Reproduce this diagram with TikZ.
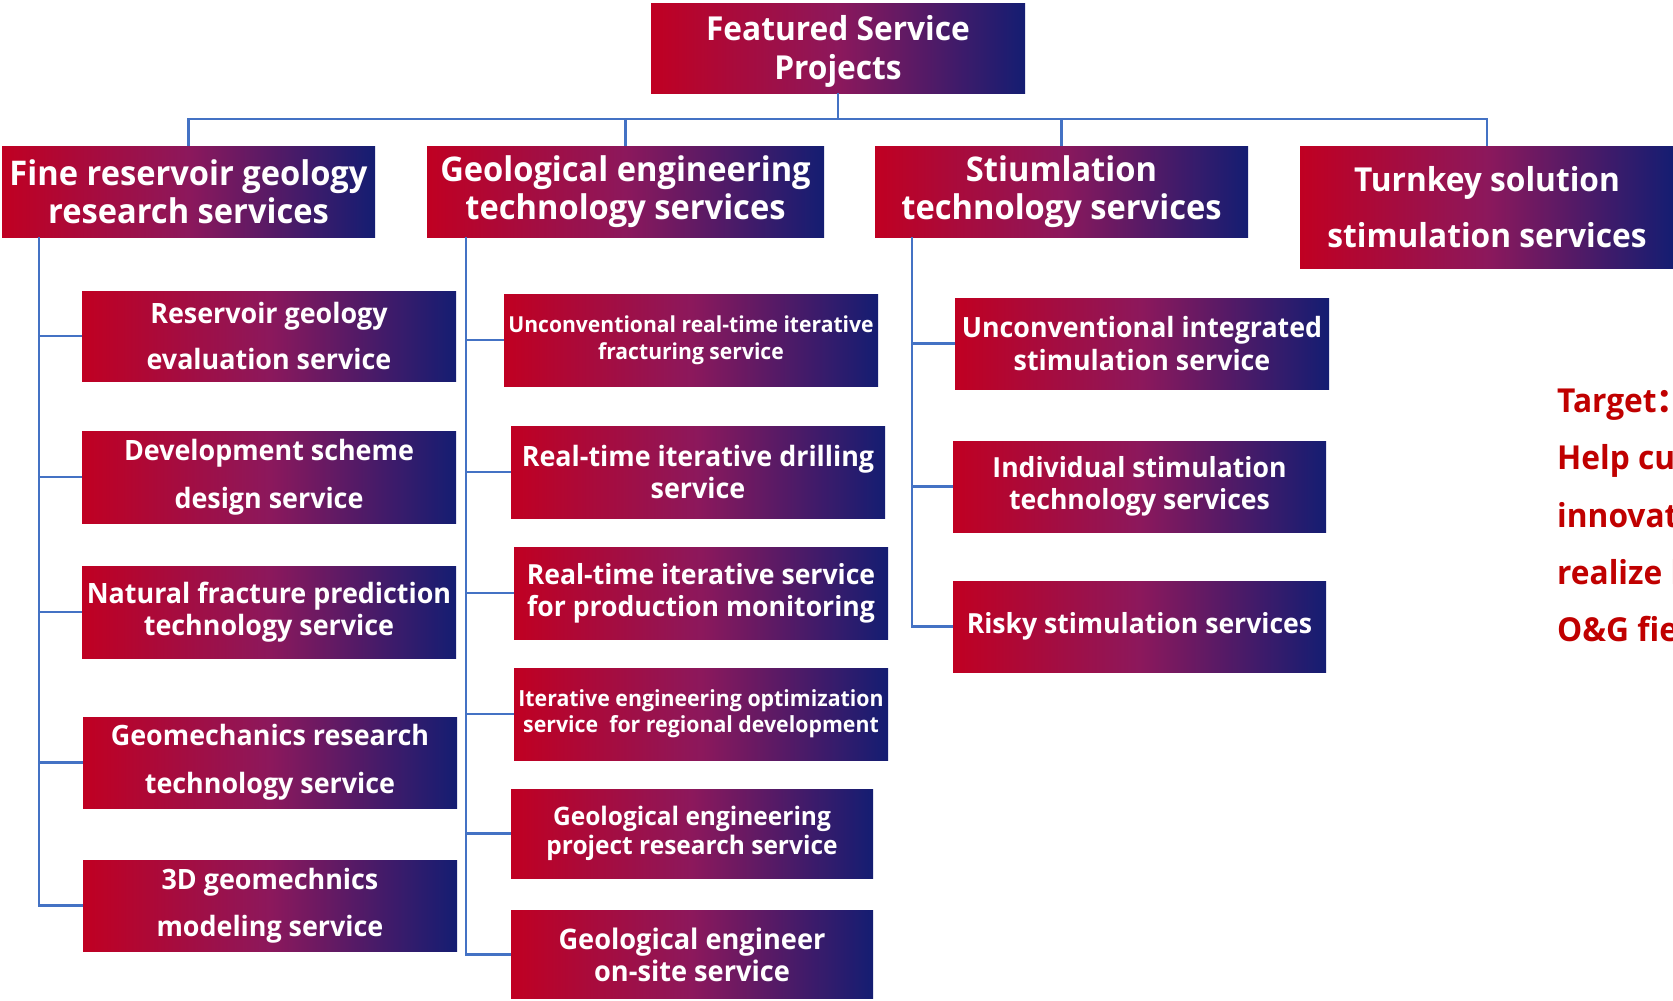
\documentclass[tikz,border=0pt]{standalone}
\usepackage{fontspec}
\setmainfont{Open Sans}[FakeStretch=0.96]
\newfontfamily\cjk{Noto Sans CJK SC}
\definecolor{gl}{RGB}{192,0,34}
\definecolor{gm}{RGB}{140,24,92}
\definecolor{gr}{RGB}{20,29,114}
\definecolor{conncol}{RGB}{68,114,196}
\definecolor{tgt}{RGB}{192,0,0}
\newcommand{\fs}[2]{\fontsize{#1}{#2}\selectfont}
\begin{document}
\begin{tikzpicture}[x=1pt,y=-1pt,
  gbox/.style={left color=gl, right color=gr, middle color=gm, text=white,
    align=center, inner sep=0pt, draw=none},
  conn/.style={draw=conncol, line width=2.6pt},
  tgtline/.style={anchor=base west, inner sep=0pt, text=tgt, font=\bfseries\fs{33}{40}}]
\clip (0,0) rectangle (1673,1001);
\fill[white] (0,0) rectangle (1673,1001);
% top
\node[gbox, minimum width=374pt, minimum height=90pt, font=\bfseries\fs{33}{39}] (top) at (838,48) {\rule{0pt}{31pt}Featured Service\\Projects};
% level 1
\node[gbox, minimum width=373pt, minimum height=91pt, font=\bfseries\fs{34}{38}] (A) at (188.5,191.5) {Fine reservoir geology\\research services};
\node[gbox, minimum width=397pt, minimum height=91pt, font=\bfseries\fs{34}{38}] (B) at (625.5,191.5) {Geological engineering\\technology services};
\node[gbox, minimum width=373pt, minimum height=91pt, font=\bfseries\fs{34}{38}] (C) at (1061.5,191.5) {Stiumlation\\technology services};
\node[gbox, minimum width=374pt, minimum height=122pt, font=\bfseries\fs{33}{56}] (D) at (1487,207) {Turnkey solution\\stimulation services};
\coordinate (bar) at (838,119);
\draw[conn] (top.south) -- (bar);
\draw[conn] (A.north) |- (bar) -| (D.north);
\draw[conn] (B.north) -- (B.north |- bar);
\draw[conn] (C.north) -- (C.north |- bar);
% column A
\node[gbox, minimum width=374pt, minimum height=90pt, font=\bfseries\fs{28}{46}] (A1) at (269,336) {Reservoir geology\\evaluation service};
\node[gbox, minimum width=374pt, minimum height=92pt, font=\bfseries\fs{28}{48}] (A2) at (269,477) {Development scheme\\design service};
\node[gbox, minimum width=374pt, minimum height=92pt, font=\bfseries\fs{28}{32}] (A3) at (269,612) {Natural fracture prediction\\technology service};
\node[gbox, minimum width=374pt, minimum height=91pt, font=\bfseries\fs{28}{48}] (A4) at (270,762.5) {Geomechanics research\\technology service};
\node[gbox, minimum width=374pt, minimum height=91pt, font=\bfseries\fs{28}{47}] (A5) at (270,905.5) {3D geomechnics\\modeling service};
\coordinate (Ta) at ([xshift=37pt]A.south west);
\foreach \n in {A1,A2,A3,A4,A5} \draw[conn] (Ta) |- (\n.west);
% column B
\node[gbox, minimum width=374pt, minimum height=92pt, font=\bfseries\fs{22}{27}] (B1) at (691,340) {Unconventional real-time iterative\\fracturing service};
\node[gbox, minimum width=374pt, minimum height=92pt, font=\bfseries\fs{28}{32}] (B2) at (698,472) {Real-time iterative drilling\\service};
\node[gbox, minimum width=374pt, minimum height=92pt, font=\bfseries\fs{27.7}{32}] (B3) at (701,593) {Real-time iterative service\\for production monitoring};
\node[gbox, minimum width=374pt, minimum height=92pt, font=\bfseries\fs{22.2}{26}] (B4) at (701,714) {Iterative engineering optimization\\service~~for regional development};
\node[gbox, minimum width=362pt, minimum height=89pt, font=\bfseries\fs{25.5}{29.5}] (B5) at (692,833.5) {Geological engineering\\project research service};
\node[gbox, minimum width=362pt, minimum height=88pt, font=\bfseries\fs{28.3}{32}] (B6) at (692,954.5) {Geological engineer\\on-site service};
\coordinate (Tb) at ([xshift=39pt]B.south west);
\foreach \n in {B1,B2,B3,B4,B5,B6} \draw[conn] (Tb) |- (\n.west);
% column C
\node[gbox, minimum width=374pt, minimum height=91pt, font=\bfseries\fs{27.9}{33}] (C1) at (1142,343.5) {Unconventional integrated\\stimulation service};
\node[gbox, minimum width=373pt, minimum height=91pt, font=\bfseries\fs{27.7}{32}] (C2) at (1139.5,486.5) {Individual stimulation\\technology services};
\node[gbox, minimum width=373pt, minimum height=91pt, font=\bfseries\fs{27.7}{32}] (C3) at (1139.5,626.5) {Risky stimulation services};
\coordinate (Tc) at ([xshift=37pt]C.south west);
\foreach \n in {C1,C2,C3} \draw[conn] (Tc) |- (\n.west);
% target text
\node[tgtline] (t1) at (1557,412) {Target{\cjk\bfseries ：}};
\node[tgtline] (t2) at (1557,469) {Help customers};
\node[tgtline] (t3) at (1557,527) {innovate technology};
\node[tgtline] (t4) at (1557,584) {realize high efficiency};
\node[tgtline] (t5) at (1557,641) {O\&G field development};
\end{tikzpicture}
\end{document}
